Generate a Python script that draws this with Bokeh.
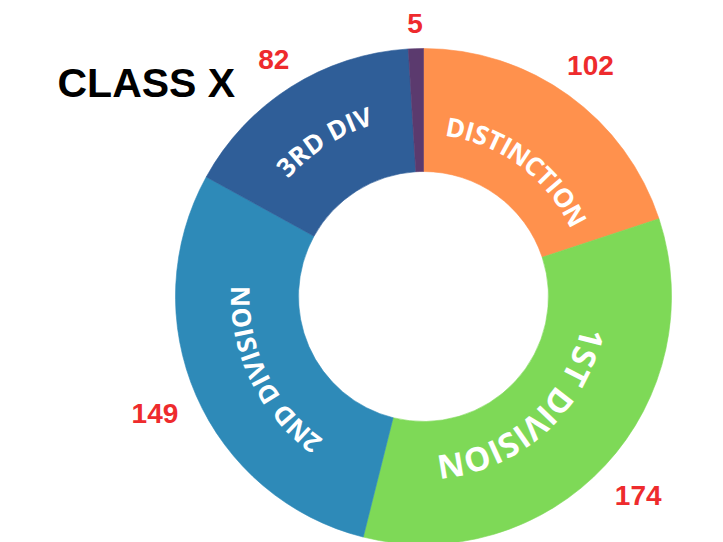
import numpy as np
from bokeh.plotting import figure
from bokeh.models import ColumnDataSource, Range1d, Label
from bokeh.embed import file_html
from bokeh.resources import INLINE
from bokeh.core.properties import value

# ---- data ----
categories = ["DISTINCTION", "1ST DIVISION", "2ND DIVISION", "3RD DIV", "OTHER"]
ring_labels = ["DISTINCTION", "1ST DIVISION", "2ND DIVISION", "3RD DIV", ""]
counts = [102, 174, 149, 82, 5]
colors = ["#FF914D", "#7ED957", "#2E8AB8", "#2F5E98", "#5B3A6E"]
title_text = "CLASS X"

# ---- layout / style ----
W, H = 723, 542
cx, cy = 423, 246
R_OUT, R_IN = 248, 125
ring_text_r = [172, 172, 184, 189, 180]
ring_text_size = [26, 33, 26, 26, 26]
ring_text_track = [1.04, 1.05, 1.06, 1.07, 1.0]
ring_text_shift_deg = [0.6, 5.2, -2.3, -0.2, 0.0]
value_label_r = [285, 293, 293, 280, 273]

# approximate advance widths (em) for bold sans capitals
CHAR_W = {"A": .69, "B": .68, "C": .63, "D": .73, "E": .56, "I": .33, "N": .78,
          "O": .79, "R": .66, "S": .56, "T": .58, "V": .63, "1": .57, "2": .57,
          "3": .57, " ": .26}

total = float(sum(counts))
cum = np.concatenate([[0.0], np.cumsum(counts)]) / total * 2 * np.pi
a0, a1 = cum[:-1], cum[1:]          # compass angles (clockwise from top)
mid = (a0 + a1) / 2

p = figure(width=W, height=H, x_range=Range1d(0, W), y_range=Range1d(0, H),
           output_backend="svg", toolbar_location=None, min_border=0)
p.axis.visible = False
p.xgrid.visible = False
p.ygrid.visible = False
p.outline_line_color = None
p.background_fill_color = "white"

wedges = ColumnDataSource(dict(
    start=np.pi / 2 - a1, end=np.pi / 2 - a0, color=colors, cat=categories))
p.annular_wedge(x=cx, y=cy, inner_radius=R_IN, outer_radius=R_OUT,
                start_angle="start", end_angle="end", direction="anticlock",
                fill_color="color", line_color="color", line_width=0.6,
                source=wedges)

# curved ring labels, one glyph per character
xs, ys, ts, angs, sizes = [], [], [], [], []
for i, lab in enumerate(ring_labels):
    if not lab:
        continue
    fs = ring_text_size[i]
    k = ring_text_track[i]
    r = ring_text_r[i]
    w = [CHAR_W.get(c, .6) * fs * k for c in lab]
    tot = sum(w)
    centre = mid[i] + np.deg2rad(ring_text_shift_deg[i])
    s = 0.0
    for c, wc in zip(lab, w):
        d = s + wc / 2 - tot / 2
        th = centre + d / r
        s += wc
        if c == " ":
            continue
        xs.append(cx + r * np.sin(th))
        ys.append(cy + r * np.cos(th))
        ts.append(c)
        angs.append(-th)
        sizes.append(f"{fs}px")
chars = ColumnDataSource(dict(x=xs, y=ys, text=ts, angle=angs, size=sizes))
p.text(x="x", y="y", text="text", angle="angle", source=chars,
       text_font=value("Open Sans"), text_font_style="bold",
       text_font_size="size", text_color="white",
       text_align="center", text_baseline="middle")

# value labels outside the ring
lr = np.array(value_label_r)
vals = ColumnDataSource(dict(
    x=cx + lr * np.sin(mid), y=cy + lr * np.cos(mid),
    text=[str(v) for v in counts]))
p.text(x="x", y="y", text="text", source=vals,
       text_font=value("Liberation Sans"), text_font_style="bold",
       text_font_size="28px", text_color="#EE2B2D",
       text_align="center", text_baseline="middle")

p.add_layout(Label(x=57, y=460, text=title_text, text_font="Liberation Sans",
                   text_font_style="bold", text_font_size="41px",
                   text_color="black", text_align="left",
                   text_baseline="alphabetic"))

open("out.html", "w").write(file_html(p, INLINE))
